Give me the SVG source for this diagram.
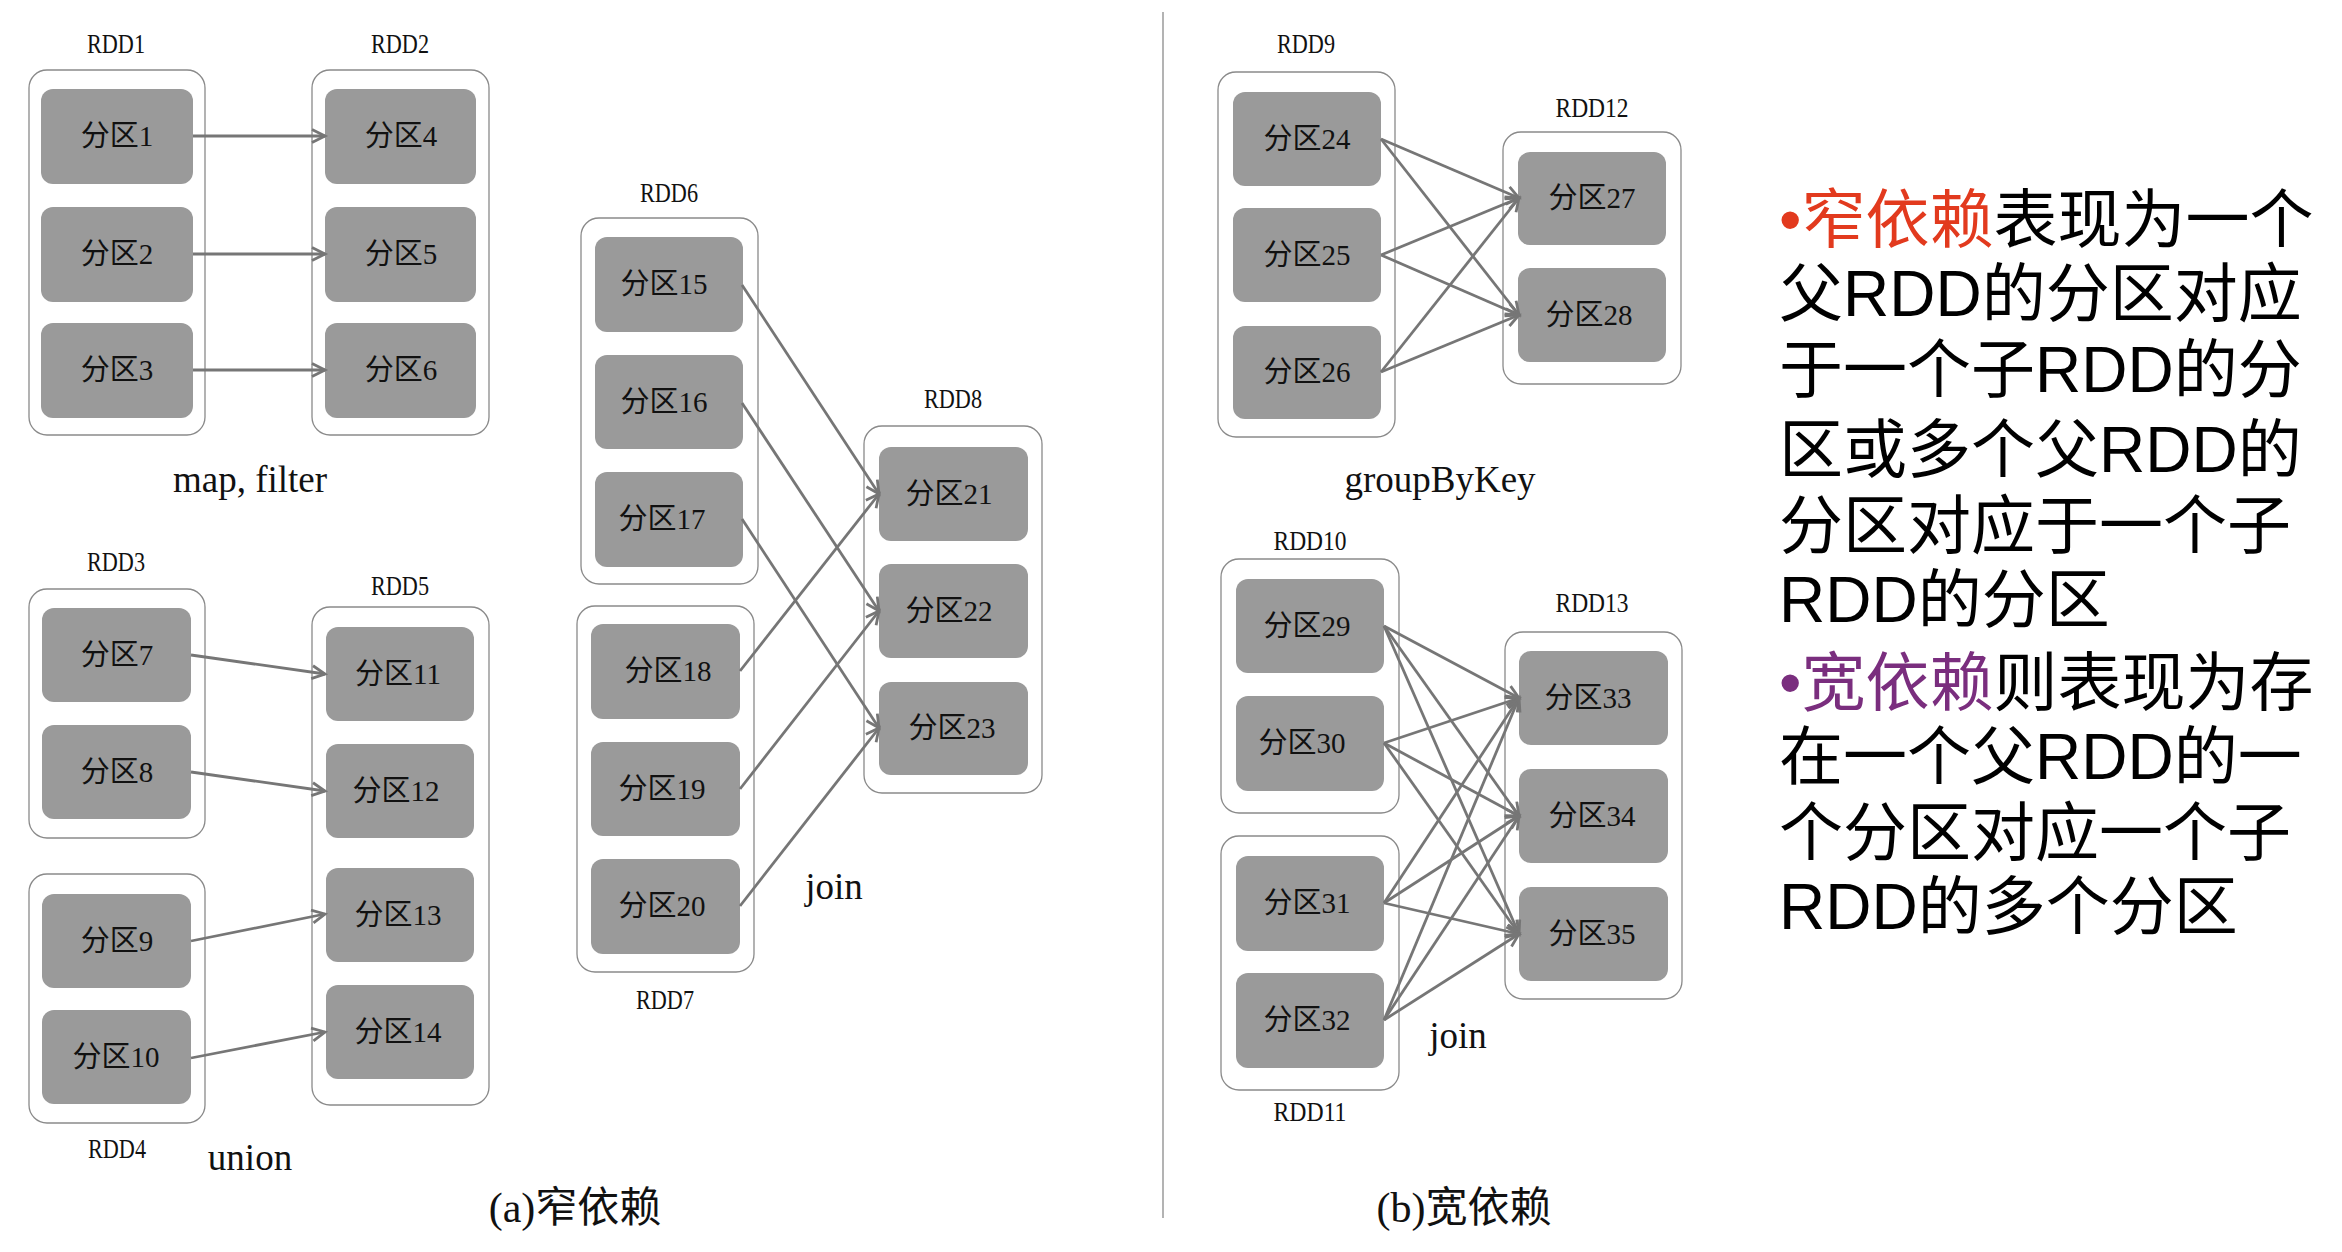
<svg xmlns="http://www.w3.org/2000/svg" width="2342" height="1252" viewBox="0 0 2342 1252">
<style>
.c{fill:#fff;stroke:#8a8a8a;stroke-width:1.3}
.p{fill:#9a9a9a}
.pt{font-family:"Liberation Serif","Noto Sans CJK SC",serif;font-size:29px;fill:#111;text-anchor:middle;dominant-baseline:central}
.rl{font-family:"Liberation Serif",serif;font-size:27px;fill:#111;text-anchor:middle}
.op{font-family:"Liberation Serif",serif;font-size:37px;fill:#111;text-anchor:middle}
.cap{font-family:"Liberation Serif","Noto Sans CJK SC",serif;font-size:42px;fill:#111;text-anchor:middle}
.e{stroke:#767676;stroke-width:2.8;fill:none;marker-end:url(#ah)}
.tx{font-family:"Liberation Sans","Noto Sans CJK SC",sans-serif;font-size:64px;fill:#000}
.red{fill:#e23a1e}
.pur{fill:#7a2e7e}
</style>
<defs>
<marker id="ah" markerUnits="userSpaceOnUse" markerWidth="20" markerHeight="20" refX="14" refY="8" orient="auto">
<path d="M1,1.5 L14,8 L1,14.5" fill="none" stroke="#767676" stroke-width="2.8"/>
</marker>
</defs>
<rect width="2342" height="1252" fill="#fff"/>

<g id="RDD1"><rect class="c" x="29" y="70" width="176" height="365" rx="18"/><text class="rl" x="116" y="53" textLength="58" lengthAdjust="spacingAndGlyphs">RDD1</text></g>
<g id="p1"><rect class="p" x="41" y="89" width="152" height="95" rx="12"/><text class="pt" x="117" y="136">分区1</text></g>
<g id="p2"><rect class="p" x="41" y="207" width="152" height="95" rx="12"/><text class="pt" x="117" y="254">分区2</text></g>
<g id="p3"><rect class="p" x="41" y="323" width="152" height="95" rx="12"/><text class="pt" x="117" y="370">分区3</text></g>
<g id="RDD2"><rect class="c" x="312" y="70" width="177" height="365" rx="18"/><text class="rl" x="400" y="53" textLength="58" lengthAdjust="spacingAndGlyphs">RDD2</text></g>
<g id="p4"><rect class="p" x="325" y="89" width="151" height="95" rx="12"/><text class="pt" x="401" y="136">分区4</text></g>
<g id="p5"><rect class="p" x="325" y="207" width="151" height="95" rx="12"/><text class="pt" x="401" y="254">分区5</text></g>
<g id="p6"><rect class="p" x="325" y="323" width="151" height="95" rx="12"/><text class="pt" x="401" y="370">分区6</text></g>

<g id="RDD3"><rect class="c" x="29" y="589" width="176" height="249" rx="18"/><text class="rl" x="116" y="571" textLength="58" lengthAdjust="spacingAndGlyphs">RDD3</text></g>
<g id="p7"><rect class="p" x="42" y="608" width="149" height="94" rx="12"/><text class="pt" x="117" y="655">分区7</text></g>
<g id="p8"><rect class="p" x="42" y="725" width="149" height="94" rx="12"/><text class="pt" x="117" y="772">分区8</text></g>
<g id="RDD4"><rect class="c" x="29" y="874" width="176" height="249" rx="18"/><text class="rl" x="117" y="1158" textLength="58" lengthAdjust="spacingAndGlyphs">RDD4</text></g>
<g id="p9"><rect class="p" x="42" y="894" width="149" height="94" rx="12"/><text class="pt" x="117" y="941">分区9</text></g>
<g id="p10"><rect class="p" x="42" y="1010" width="149" height="94" rx="12"/><text class="pt" x="116" y="1057">分区10</text></g>
<g id="RDD5"><rect class="c" x="312" y="607" width="177" height="498" rx="18"/><text class="rl" x="400" y="595" textLength="58" lengthAdjust="spacingAndGlyphs">RDD5</text></g>
<g id="p11"><rect class="p" x="326" y="627" width="148" height="94" rx="12"/><text class="pt" x="398" y="674">分区11</text></g>
<g id="p12"><rect class="p" x="326" y="744" width="148" height="94" rx="12"/><text class="pt" x="396" y="791">分区12</text></g>
<g id="p13"><rect class="p" x="326" y="868" width="148" height="94" rx="12"/><text class="pt" x="398" y="915">分区13</text></g>
<g id="p14"><rect class="p" x="326" y="985" width="148" height="94" rx="12"/><text class="pt" x="398" y="1032">分区14</text></g>

<g id="RDD6"><rect class="c" x="581" y="218" width="177" height="366" rx="18"/><text class="rl" x="669" y="202" textLength="58" lengthAdjust="spacingAndGlyphs">RDD6</text></g>
<g id="p15"><rect class="p" x="595" y="237" width="148" height="95" rx="12"/><text class="pt" x="664" y="284">分区15</text></g>
<g id="p16"><rect class="p" x="595" y="355" width="148" height="94" rx="12"/><text class="pt" x="664" y="402">分区16</text></g>
<g id="p17"><rect class="p" x="595" y="472" width="148" height="95" rx="12"/><text class="pt" x="662" y="519">分区17</text></g>
<g id="RDD7"><rect class="c" x="577" y="606" width="177" height="366" rx="18"/><text class="rl" x="665" y="1009" textLength="58" lengthAdjust="spacingAndGlyphs">RDD7</text></g>
<g id="p18"><rect class="p" x="591" y="624" width="149" height="95" rx="12"/><text class="pt" x="668" y="671">分区18</text></g>
<g id="p19"><rect class="p" x="591" y="742" width="149" height="94" rx="12"/><text class="pt" x="662" y="789">分区19</text></g>
<g id="p20"><rect class="p" x="591" y="859" width="149" height="95" rx="12"/><text class="pt" x="662" y="906">分区20</text></g>
<g id="RDD8"><rect class="c" x="864" y="426" width="178" height="367" rx="18"/><text class="rl" x="953" y="408" textLength="58" lengthAdjust="spacingAndGlyphs">RDD8</text></g>
<g id="p21"><rect class="p" x="879" y="447" width="149" height="94" rx="12"/><text class="pt" x="949" y="494">分区21</text></g>
<g id="p22"><rect class="p" x="879" y="564" width="149" height="94" rx="12"/><text class="pt" x="949" y="611">分区22</text></g>
<g id="p23"><rect class="p" x="879" y="682" width="149" height="93" rx="12"/><text class="pt" x="952" y="728">分区23</text></g>

<g id="RDD9"><rect class="c" x="1218" y="72" width="177" height="365" rx="18"/><text class="rl" x="1306" y="53" textLength="58" lengthAdjust="spacingAndGlyphs">RDD9</text></g>
<g id="p24"><rect class="p" x="1233" y="92" width="148" height="94" rx="12"/><text class="pt" x="1307" y="139">分区24</text></g>
<g id="p25"><rect class="p" x="1233" y="208" width="148" height="94" rx="12"/><text class="pt" x="1307" y="255">分区25</text></g>
<g id="p26"><rect class="p" x="1233" y="326" width="148" height="93" rx="12"/><text class="pt" x="1307" y="372">分区26</text></g>
<g id="RDD12"><rect class="c" x="1503" y="132" width="178" height="252" rx="18"/><text class="rl" x="1592" y="117" textLength="73" lengthAdjust="spacingAndGlyphs">RDD12</text></g>
<g id="p27"><rect class="p" x="1518" y="152" width="148" height="93" rx="12"/><text class="pt" x="1592" y="198">分区27</text></g>
<g id="p28"><rect class="p" x="1518" y="268" width="148" height="94" rx="12"/><text class="pt" x="1589" y="315">分区28</text></g>

<g id="RDD10"><rect class="c" x="1221" y="559" width="178" height="254" rx="18"/><text class="rl" x="1310" y="550" textLength="73" lengthAdjust="spacingAndGlyphs">RDD10</text></g>
<g id="p29"><rect class="p" x="1236" y="579" width="148" height="94" rx="12"/><text class="pt" x="1307" y="626">分区29</text></g>
<g id="p30"><rect class="p" x="1236" y="696" width="148" height="95" rx="12"/><text class="pt" x="1302" y="743">分区30</text></g>
<g id="RDD11"><rect class="c" x="1221" y="836" width="178" height="254" rx="18"/><text class="rl" x="1310" y="1121" textLength="73" lengthAdjust="spacingAndGlyphs">RDD11</text></g>
<g id="p31"><rect class="p" x="1236" y="856" width="148" height="95" rx="12"/><text class="pt" x="1307" y="903">分区31</text></g>
<g id="p32"><rect class="p" x="1236" y="973" width="148" height="95" rx="12"/><text class="pt" x="1307" y="1020">分区32</text></g>
<g id="RDD13"><rect class="c" x="1505" y="632" width="177" height="367" rx="18"/><text class="rl" x="1592" y="612" textLength="73" lengthAdjust="spacingAndGlyphs">RDD13</text></g>
<g id="p33"><rect class="p" x="1519" y="651" width="149" height="94" rx="12"/><text class="pt" x="1588" y="698">分区33</text></g>
<g id="p34"><rect class="p" x="1519" y="769" width="149" height="94" rx="12"/><text class="pt" x="1592" y="816">分区34</text></g>
<g id="p35"><rect class="p" x="1519" y="887" width="149" height="94" rx="12"/><text class="pt" x="1592" y="934">分区35</text></g>

<g id="connectors">
<line class="e" x1="193" y1="136" x2="325" y2="136"/>
<line class="e" x1="193" y1="254" x2="325" y2="254"/>
<line class="e" x1="193" y1="370" x2="325" y2="370"/>
<line class="e" x1="191" y1="655" x2="325" y2="674"/>
<line class="e" x1="191" y1="772" x2="325" y2="791"/>
<line class="e" x1="191" y1="941" x2="325" y2="914"/>
<line class="e" x1="191" y1="1058" x2="325" y2="1032"/>
<line class="e" x1="742" y1="285" x2="879" y2="494"/>
<line class="e" x1="742" y1="403" x2="879" y2="611"/>
<line class="e" x1="742" y1="519" x2="879" y2="728"/>
<line class="e" x1="740" y1="671" x2="879" y2="494"/>
<line class="e" x1="740" y1="789" x2="879" y2="611"/>
<line class="e" x1="740" y1="906" x2="879" y2="728"/>
<line class="e" x1="1381" y1="139" x2="1519" y2="198"/>
<line class="e" x1="1381" y1="139" x2="1519" y2="315"/>
<line class="e" x1="1381" y1="255" x2="1519" y2="198"/>
<line class="e" x1="1381" y1="255" x2="1519" y2="315"/>
<line class="e" x1="1381" y1="372" x2="1519" y2="198"/>
<line class="e" x1="1381" y1="372" x2="1519" y2="315"/>
<line class="e" x1="1384" y1="626" x2="1519" y2="698"/>
<line class="e" x1="1384" y1="626" x2="1519" y2="816"/>
<line class="e" x1="1384" y1="626" x2="1519" y2="934"/>
<line class="e" x1="1384" y1="743" x2="1519" y2="698"/>
<line class="e" x1="1384" y1="743" x2="1519" y2="816"/>
<line class="e" x1="1384" y1="743" x2="1519" y2="934"/>
<line class="e" x1="1384" y1="903" x2="1519" y2="698"/>
<line class="e" x1="1384" y1="903" x2="1519" y2="816"/>
<line class="e" x1="1384" y1="903" x2="1519" y2="934"/>
<line class="e" x1="1384" y1="1020" x2="1519" y2="698"/>
<line class="e" x1="1384" y1="1020" x2="1519" y2="816"/>
<line class="e" x1="1384" y1="1020" x2="1519" y2="934"/>
</g>

<line x1="1163" y1="12" x2="1163" y2="1218" stroke="#9a9a9a" stroke-width="1.5"/>

<text class="op" x="250" y="492">map, filter</text>
<text class="op" x="250" y="1170">union</text>
<text class="op" x="834" y="899">join</text>
<text class="op" x="1440" y="492">groupByKey</text>
<text class="op" x="1458" y="1048">join</text>
<text class="cap" x="575" y="1222">(a)窄依赖</text>
<text class="cap" x="1464" y="1222">(b)宽依赖</text>

<g id="description">
<text class="tx" x="1779" y="242"><tspan class="red">•窄依赖</tspan>表现为一个</text>
<text class="tx" x="1779" y="316">父RDD的分区对应</text>
<text class="tx" x="1779" y="392">于一个子RDD的分</text>
<text class="tx" x="1779" y="472">区或多个父RDD的</text>
<text class="tx" x="1779" y="548">分区对应于一个子</text>
<text class="tx" x="1779" y="622">RDD的分区</text>
<text class="tx" x="1779" y="705"><tspan class="pur">•宽依赖</tspan>则表现为存</text>
<text class="tx" x="1779" y="779">在一个父RDD的一</text>
<text class="tx" x="1779" y="855">个分区对应一个子</text>
<text class="tx" x="1779" y="929">RDD的多个分区</text>
</g>
</svg>
